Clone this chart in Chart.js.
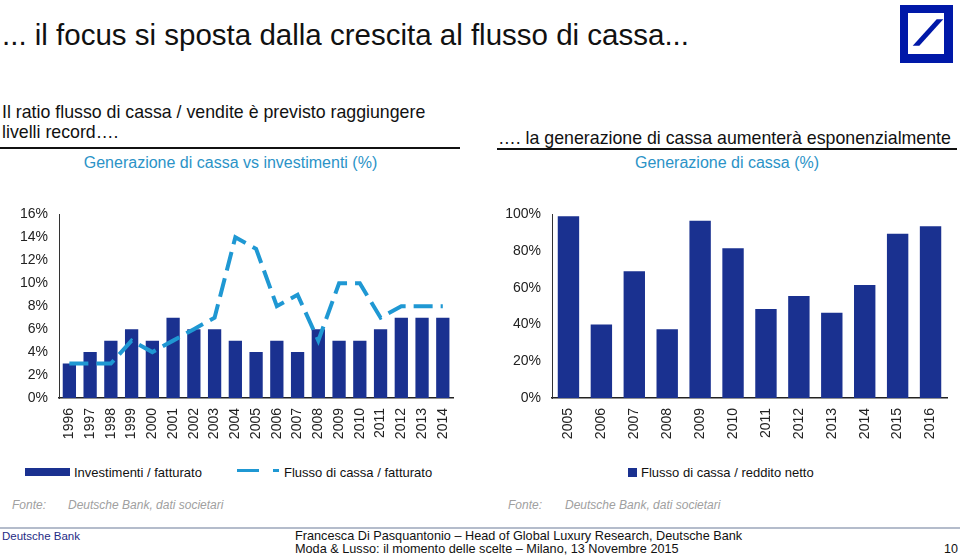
<!DOCTYPE html>
<html lang="it">
<head>
<meta charset="utf-8">
<title>Generazione di cassa</title>
<script src="https://cdn.jsdelivr.net/npm/chart.js@4.4.1/dist/chart.umd.min.js"></script>
<style>
  body { margin: 0; width: 960px; height: 557px; position: relative; overflow: hidden; background: #fff;
         font-family: "Liberation Sans", Arial, Helvetica, sans-serif; color: #111; }
  .t { position: absolute; white-space: nowrap; }
  .rule { position: absolute; height: 2px; background: #111; }
  .sub { color: #2b93c7; font-size: 16px; line-height: 16px; text-align: center; }
  .fonte { color: #a0a0a0; font-style: italic; font-size: 12px; line-height: 12px; }
  .leg { font-size: 13px; line-height: 13px; color: #111; }
  .box { position: absolute; }
  .chart-wrap { position: absolute; }
</style>
</head>
<body>
  <!-- intestazione -->
  <div class="t" style="left:2px;top:20px;font-size:29.5px;line-height:29.5px;">... il focus si sposta dalla crescita al flusso di cassa...</div>
  <svg class="box" style="left:900px;top:5px" width="53" height="58" viewBox="0 0 53 58">
    <rect x="0" y="0" width="53" height="58" fill="#0018a8"/>
    <rect x="8" y="8" width="36" height="41" fill="#fff"/>
    <polygon points="12.7,40.7 19.3,40.7 43.3,14.3 36.7,14.3" fill="#0018a8"/>
  </svg>

  <div class="t" style="left:2px;top:102px;font-size:17.75px;line-height:20px;">Il ratio flusso di cassa / vendite è previsto raggiungere<br>livelli record….</div>
  <div class="rule" style="left:0;top:147px;width:460px;"></div>
  <div class="t sub" style="left:0;top:155px;width:461px;">Generazione di cassa vs investimenti (%)</div>

  <div class="t" style="left:498px;top:128px;font-size:17.75px;line-height:20px;">…. la generazione di cassa aumenterà esponenzialmente</div>
  <div class="rule" style="left:497px;top:148px;width:460px;"></div>
  <div class="t sub" style="left:497px;top:155px;width:460px;">Generazione di cassa (%)</div>

  <!-- grafici -->
  <div class="chart-wrap" style="left:0;top:195px;width:470px;height:260px;"><canvas id="leftChart" width="470" height="260"></canvas></div>
  <div class="chart-wrap" style="left:480px;top:195px;width:480px;height:260px;"><canvas id="rightChart" width="480" height="260"></canvas></div>

  <!-- legende -->
  <div id="legend"></div>

  <div class="t fonte" style="left:12px;top:499px;">Fonte:</div>
  <div class="t fonte" style="left:68px;top:499px;">Deutsche Bank, dati societari</div>
  <div class="t fonte" style="left:508px;top:499px;">Fonte:</div>
  <div class="t fonte" style="left:565px;top:499px;">Deutsche Bank, dati societari</div>

  <!-- piè di pagina -->
  <div class="box" style="left:0;top:527px;width:960px;height:2px;background:#b4bccb;"></div>
  <div class="t" style="left:2px;top:531px;font-size:11.5px;line-height:11.5px;color:#1f2c86;">Deutsche Bank</div>
  <div class="t" style="left:295px;top:530px;font-size:12.7px;line-height:13px;">Francesca Di Pasquantonio – Head of Global Luxury Research, Deutsche Bank<br>Moda &amp; Lusso: il momento delle scelte – Milano, 13 Novembre 2015</div>
  <div class="t" style="left:944px;top:543px;font-size:12.5px;line-height:12.5px;">10</div>

<script>
// --- dati ---
const leftYears = ['1996', '1997', '1998', '1999', '2000', '2001', '2002', '2003', '2004', '2005',
                   '2006', '2007', '2008', '2009', '2010', '2011', '2012', '2013', '2014'];
const investimentiFatturato = [3, 4, 5, 6, 5, 7, 6, 6, 5, 4, 5, 4, 6, 5, 5, 6, 7, 7, 7];
const flussoFatturato       = [3, 3, 3, 5, 4, 5, 6, 7, 14, 13, 8, 9, 5, 10, 10, 7, 8, 8, 8];
const leftTickMax = 16;
const leftTickStep = 2;

const rightYears = ['2005', '2006', '2007', '2008', '2009', '2010', '2011', '2012', '2013', '2014', '2015', '2016'];
const flussoReddito = [99, 40, 69, 37.5, 96.5, 81.5, 48.5, 55.5, 46.5, 61.5, 89.5, 93.5];
const rightTickMax = 100;
const rightTickStep = 20;

const seriesNames = ['Investimenti / fatturato', 'Flusso di cassa / fatturato', 'Flusso di cassa / reddito netto'];

// --- stile ---
const NAVY = '#1a3190';
const CYAN = '#1f98d3';
const FONT = '"Liberation Sans", Arial, Helvetica, sans-serif';

function axes(max, step, yWidth) {
    return {
        x: {
            grid: { display: false, drawTicks: false },
            border: { display: true, color: '#222', width: 1.5 },
            ticks: { color: '#222', font: { family: FONT, size: 14 }, minRotation: 90, maxRotation: 90, autoSkip: false, padding: 10 },
            afterFit: s => { s.height = 57; }
        },
        y: {
            min: 0, max: max,
            grid: { display: false, drawTicks: false },
            border: { display: true, color: '#333', width: 1 },
            ticks: { stepSize: step, color: '#222', font: { family: FONT, size: 14 }, padding: 11, callback: v => v + '%' },
            afterFit: s => { s.width = yWidth; }
        }
    };
}

const baseOptions = {
    responsive: false,
    animation: false,
    plugins: { legend: { display: false }, tooltip: { enabled: false } }
};

new Chart(document.getElementById('leftChart'), {
    data: {
        labels: leftYears,
        datasets: [{
            type: 'line',
            label: seriesNames[1],
            data: flussoFatturato,
            borderColor: CYAN,
            borderWidth: 4,
            borderDash: [19, 8],
            borderCapStyle: 'butt',
            pointRadius: 0,
            tension: 0,
            fill: false,
            order: 0
        }, {
            type: 'bar',
            label: seriesNames[0],
            data: investimentiFatturato,
            backgroundColor: NAVY,
            barPercentage: 0.64,
            categoryPercentage: 1,
            order: 1
        }]
    },
    options: Object.assign({}, baseOptions, {
        layout: { padding: { top: 14, right: 15, bottom: 0, left: 0 } },
        scales: axes(leftTickMax, leftTickStep, 59)
    })
});

new Chart(document.getElementById('rightChart'), {
    type: 'bar',
    data: {
        labels: rightYears,
        datasets: [{
            label: seriesNames[2],
            data: flussoReddito,
            backgroundColor: NAVY,
            barPercentage: 0.65,
            categoryPercentage: 1
        }]
    },
    options: Object.assign({}, baseOptions, {
        layout: { padding: { top: 14, right: 13, bottom: 0, left: 0 } },
        scales: axes(rightTickMax, rightTickStep, 72)
    })
});

// --- legenda (html) ---
const legend = document.getElementById('legend');
legend.innerHTML =
    `<div class="box" style="left:25px;top:468px;width:45px;height:8px;background:${NAVY}"></div>` +
    `<div class="t leg" style="left:74px;top:466px">${seriesNames[0]}</div>` +
    `<div class="box" style="left:237px;top:469px;width:22px;height:3px;background:${CYAN}"></div>` +
    `<div class="box" style="left:273px;top:469px;width:6px;height:3px;background:${CYAN}"></div>` +
    `<div class="t leg" style="left:284px;top:466px">${seriesNames[1]}</div>` +
    `<div class="box" style="left:628px;top:468px;width:9px;height:9px;background:${NAVY}"></div>` +
    `<div class="t leg" style="left:641px;top:466px">${seriesNames[2]}</div>`;
</script>
</body>
</html>
